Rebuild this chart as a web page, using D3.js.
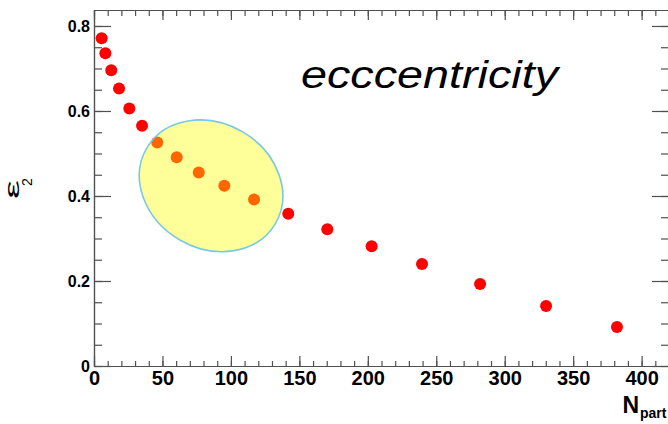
<!DOCTYPE html>
<html>
<head>
<meta charset="utf-8">
<script src="https://cdn.jsdelivr.net/npm/d3@7"></script>
<style>
  html, body { margin: 0; padding: 0; background: #fff; }
  svg { display: block; }
</style>
</head>
<body>
<svg id="chart" width="668" height="424"></svg>
<script>
// ---- data ----
const npart = [5.6, 8.3, 12.6, 18.3, 25.8, 35.1, 46.2, 60.4, 76.5, 95.2, 116.9, 141.9, 170.4, 202.8, 239.6, 282.0, 330.2, 382.0];
const ecc   = [0.771, 0.736, 0.696, 0.653, 0.606, 0.565, 0.526, 0.491, 0.455, 0.424, 0.392, 0.358, 0.322, 0.282, 0.240, 0.193, 0.141, 0.092];
const xMajorTicks = [0, 50, 100, 150, 200, 250, 300, 350, 400];
const yMajorTicks = [0, 0.2, 0.4, 0.6, 0.8];
const yTickLabels = ["0", "0.2", "0.4", "0.6", "0.8"];
const highlightCenter = [85.5, 0.424]; // (Npart, eps2) of the highlighted region
const titleText = "ecccentricity";

// ---- layout ----
const svg = d3.select("#chart");
const mLeft = 94, mRight = 669, mTop = 10, mBottom = 366;
const x = d3.scaleLinear().domain([0, 420]).range([mLeft, mRight]);
const y = d3.scaleLinear().domain([0, 0.8376]).range([mBottom, mTop]);
const axisColor = "#505050";
const xMinor = d3.range(0, 421, 10);
const yMinor = d3.range(0, 0.84, 0.05);

function styleAxis(g) {
  g.selectAll("path, line").attr("stroke", axisColor).attr("stroke-width", 1.2);
  g.selectAll("text").attr("fill", "#000").attr("font-family", "Liberation Sans, Arial, sans-serif").attr("font-weight", "bold");
}

// bottom axis
svg.append("g").attr("transform", `translate(0,${mBottom})`)
  .call(d3.axisBottom(x).tickValues(xMinor).tickSize(-5).tickSizeOuter(0).tickFormat(""))
  .call(styleAxis);
svg.append("g").attr("transform", `translate(0,${mBottom})`)
  .call(d3.axisBottom(x).tickValues(xMajorTicks).tickSize(-10).tickSizeOuter(0).tickPadding(5).tickFormat(d3.format("d")))
  .call(styleAxis)
  .call(g => g.selectAll("text").attr("font-size", 20));
// top axis (mirror ticks)
svg.append("g").attr("transform", `translate(0,${mTop})`)
  .call(d3.axisTop(x).tickValues(xMinor).tickSize(-6).tickSizeOuter(0).tickFormat(""))
  .call(styleAxis);
svg.append("g").attr("transform", `translate(0,${mTop})`)
  .call(d3.axisTop(x).tickValues(xMajorTicks).tickSize(-10).tickSizeOuter(0).tickFormat(""))
  .call(styleAxis);
// left axis
svg.append("g").attr("transform", `translate(${mLeft},0)`)
  .call(d3.axisLeft(y).tickValues(yMinor).tickSize(-8).tickSizeOuter(0).tickFormat(""))
  .call(styleAxis);
svg.append("g").attr("transform", `translate(${mLeft},0)`)
  .call(d3.axisLeft(y).tickValues(yMajorTicks).tickSize(-17).tickSizeOuter(0).tickPadding(4)
    .tickFormat((d, i) => yTickLabels[i]))
  .call(styleAxis)
  .call(g => g.selectAll("text").attr("font-size", 16));
// right axis
svg.append("g").attr("transform", `translate(${mRight},0)`)
  .call(d3.axisRight(y).tickValues(yMinor).tickSize(-8).tickSizeOuter(0).tickFormat(""))
  .call(styleAxis);
svg.append("g").attr("transform", `translate(${mRight},0)`)
  .call(d3.axisRight(y).tickValues(yMajorTicks).tickSize(-17).tickSizeOuter(0).tickFormat(""))
  .call(styleAxis);

// points
svg.append("g").selectAll("circle")
  .data(npart.map((n, i) => [n, ecc[i]]))
  .join("circle")
  .attr("cx", d => x(d[0]))
  .attr("cy", d => y(d[1]))
  .attr("r", 6)
  .attr("fill", "#ff0000");

// highlight ellipse (translucent, drawn over points)
svg.append("ellipse")
  .attr("transform", `translate(${x(highlightCenter[0])},${y(highlightCenter[1])}) rotate(30.4)`)
  .attr("rx", 74.6).attr("ry", 62.5)
  .attr("fill", "#ffff00").attr("fill-opacity", 0.4)
  .attr("stroke", "#7cc8e2").attr("stroke-width", 1.6);

// title text
svg.append("text")
  .attr("x", 301).attr("y", 88)
  .attr("font-family", "Liberation Sans, Arial, sans-serif")
  .attr("font-style", "italic")
  .attr("font-size", 38)
  .attr("textLength", 257).attr("lengthAdjust", "spacingAndGlyphs")
  .text(titleText);

// x label: N_part
svg.append("text").attr("x", 622.5).attr("y", 413)
  .attr("font-family", "Liberation Sans, Arial, sans-serif").attr("font-weight", "bold").attr("font-size", 23)
  .text("N");
svg.append("text").attr("x", 640).attr("y", 418)
  .attr("font-family", "Liberation Sans, Arial, sans-serif").attr("font-weight", "bold").attr("font-size", 14)
  .text("part");

// y label: epsilon_2 (rotated)
svg.append("text").attr("transform", "translate(19,199) rotate(-90)")
  .attr("font-family", "Liberation Sans, Arial, sans-serif").attr("font-size", 20)
  .attr("textLength", 19).attr("lengthAdjust", "spacingAndGlyphs")
  .text("ε");
svg.append("text").attr("transform", "translate(31.7,186) rotate(-90)")
  .attr("font-family", "Liberation Sans, Arial, sans-serif").attr("font-size", 14)
  .text("2");
</script>
</body>
</html>
